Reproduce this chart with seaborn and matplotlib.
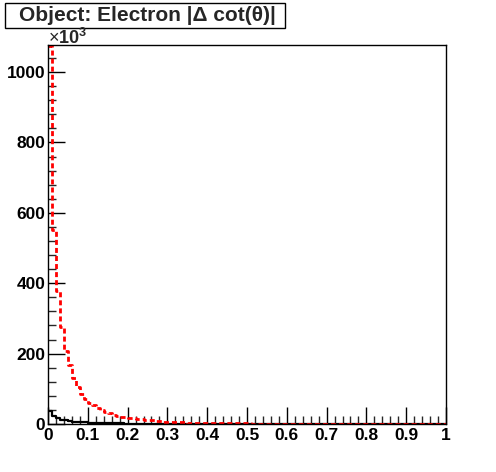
import numpy as np
import pandas as pd
import matplotlib
matplotlib.use("Agg")
import matplotlib.pyplot as plt
import seaborn as sns
from matplotlib.ticker import MultipleLocator, FuncFormatter
from matplotlib.patches import Rectangle

sns.set_style("white")
plt.rcParams['font.family'] = ['Liberation Sans', 'DejaVu Sans']
plt.rcParams['mathtext.fontset'] = 'custom'
plt.rcParams['mathtext.rm'] = 'Liberation Sans'
plt.rcParams['mathtext.bf'] = 'Liberation Sans:bold'

bin_edges = [round(i * 0.01, 2) for i in range(101)]

red_counts = [
    1075, 551, 379, 275, 208, 168, 130, 106, 85, 70,
    60, 53, 45, 39, 34, 30, 26, 24, 21, 19,
    18, 16, 15, 13, 12, 11, 10, 9, 8, 7,
    6.5, 6, 5.5, 5, 4.5, 4.2, 3.8, 3.5, 3.2, 3.0,
    2.8, 2.6, 2.4, 2.2, 2.1, 2.0, 1.9, 1.8, 1.7, 1.6,
    1.5, 1.4, 1.4, 1.3, 1.3, 1.2, 1.2, 1.1, 1.1, 1.0,
    1.0, 0.9, 0.9, 0.9, 0.8, 0.8, 0.8, 0.7, 0.7, 0.7,
    0.7, 0.6, 0.6, 0.6, 0.6, 0.5, 0.5, 0.5, 0.5, 0.5,
    0.4, 0.4, 0.4, 0.4, 0.4, 0.4, 0.3, 0.3, 0.3, 0.3,
    0.3, 0.3, 0.3, 0.2, 0.2, 0.2, 0.2, 0.2, 0.2, 0.2,
]

black_counts = [
    38, 22, 16, 12, 10, 8, 7, 6, 5, 4.5,
    4, 3.5, 3, 2.7, 2.4, 2.1, 1.9, 1.7, 1.5, 1.3,
    1.2, 1.1, 1.0, 0.9, 0.8, 0.7, 0.7, 0.6, 0.5, 0.5,
    0.4, 0.4, 0.4, 0.3, 0.3, 0.3, 0.3, 0.2, 0.2, 0.2,
    0.2, 0.2, 0.2, 0.1, 0.1, 0.1, 0.1, 0.1, 0.1, 0.1,
    0.1, 0.1, 0.1, 0.1, 0.1, 0.1, 0.1, 0.1, 0.1, 0.1,
    0.1, 0.1, 0.1, 0.1, 0.1, 0.1, 0.1, 0.1, 0.1, 0.1,
    0.05, 0.05, 0.05, 0.05, 0.05, 0.05, 0.05, 0.05, 0.05, 0.05,
    0.05, 0.05, 0.05, 0.05, 0.05, 0.05, 0.05, 0.05, 0.05, 0.05,
    0.05, 0.05, 0.05, 0.05, 0.05, 0.05, 0.05, 0.05, 0.05, 0.05,
]

title_text = "Object: Electron |\u0394 cot(\u03b8)|"
x_ticks = [0, 0.1, 0.2, 0.3, 0.4, 0.5, 0.6, 0.7, 0.8, 0.9, 1]
y_ticks = [0, 200, 400, 600, 800, 1000]

centers = [(bin_edges[i] + bin_edges[i + 1]) / 2 for i in range(100)]
df_black = pd.DataFrame({"x": centers, "w": black_counts})
df_red = pd.DataFrame({"x": centers, "w": red_counts})

W, H = 496, 472
fig = plt.figure(figsize=(W / 100, H / 100), dpi=100)
ax = fig.add_axes([48 / W, 1 - 424 / H, (446 - 48) / W, (424 - 45) / H])

sns.histplot(data=df_black, x="x", weights="w", bins=bin_edges, element="step",
             fill=False, color="black", linewidth=1.6, ax=ax)
sns.histplot(data=df_red, x="x", weights="w", bins=bin_edges, element="step",
             fill=False, color="red", linewidth=2.0, linestyle=(0, (1.8, 1.1)), ax=ax)

ax.set_xlim(0, 1)
ax.set_ylim(0, 1077)
ax.set_xlabel("")
ax.set_ylabel("")
ax.set_xticks(x_ticks)
ax.set_yticks(y_ticks)
ax.xaxis.set_minor_locator(MultipleLocator(0.02))
ax.yaxis.set_minor_locator(MultipleLocator(40))
ax.xaxis.set_major_formatter(FuncFormatter(lambda v, p: "0" if v == 0 else ("1" if v == 1 else f"{v:.1f}")))
ax.tick_params(axis="both", which="major", direction="in", length=12, width=1,
               labelsize=12.5, colors="black", bottom=True, left=True, top=False, right=False)
ax.tick_params(axis="both", which="minor", direction="in", length=6, width=1,
               bottom=True, left=True, top=False, right=False)
ax.tick_params(axis="x", pad=3)
ax.tick_params(axis="y", pad=2)
for lab in ax.get_xticklabels() + ax.get_yticklabels():
    lab.set_fontweight("bold")
for s in ax.spines.values():
    s.set_visible(True)
    s.set_color("black")
    s.set_linewidth(1)

fig.text(48 / W, 1 - 38 / H, "\u00d7$\\mathbf{10}^{\\mathbf{3}}$", fontsize=13,
         ha="left", va="center")

fig.patches.append(Rectangle((5 / W, 1 - 28 / H), 280 / W, 25 / H, transform=fig.transFigure,
                             facecolor="white", edgecolor="black", linewidth=1))
fig.text(147 / W, 1 - 15.5 / H, title_text, fontsize=15, fontweight="bold",
         ha="center", va="center")

fig.savefig("out.png", dpi=100, facecolor="white")
